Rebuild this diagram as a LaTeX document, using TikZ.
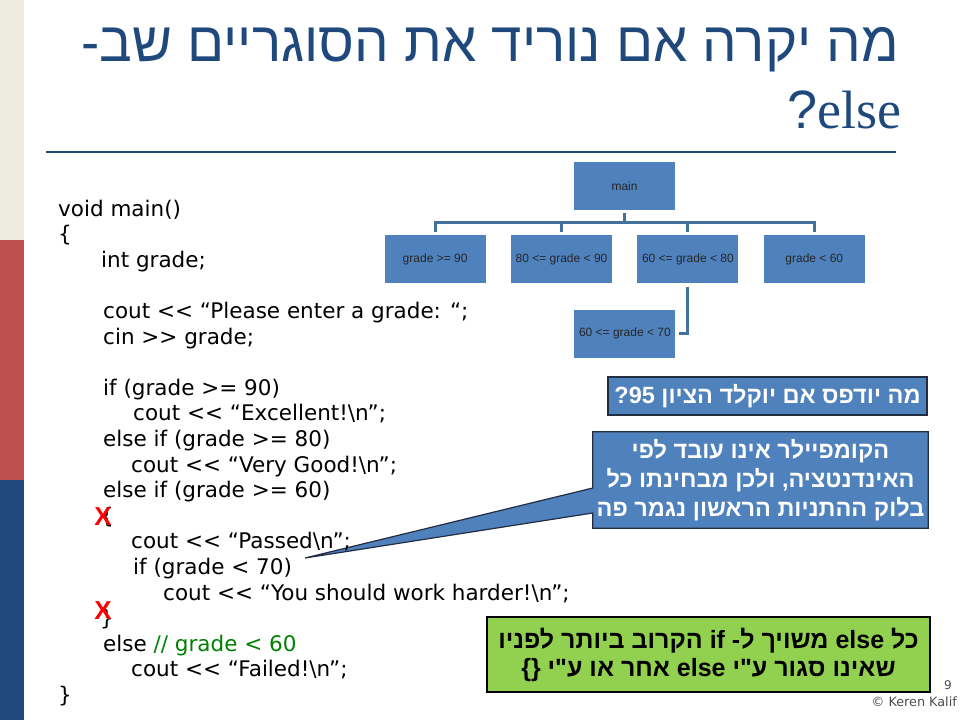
\documentclass[tikz,border=0pt]{standalone}
\usepackage{fontspec}
\usepackage{graphicx}
\setmainfont{DejaVu Sans}[Ligatures=TeXOff]
\newfontfamily\hebfont[Script=Hebrew]{Liberation Sans}
\newfontfamily\serifword{Liberation Serif}
\newfontfamily\boxfont{Liberation Sans}
\TeXXeTstate=1
\usetikzlibrary{positioning,backgrounds}
\definecolor{boxblue}{RGB}{79,129,189}
\definecolor{lineblue}{RGB}{65,113,156}
\definecolor{titleblue}{RGB}{31,73,125}
\definecolor{calledge}{RGB}{35,45,65}
\definecolor{stripbeige}{RGB}{238,236,225}
\definecolor{stripred}{RGB}{192,80,77}
\definecolor{greenbox}{RGB}{146,208,80}
\definecolor{commentgreen}{RGB}{0,128,0}

\begin{document}
\begin{tikzpicture}[x=1pt, y=-1pt, node distance=25pt,
    treebox/.style={fill=boxblue, minimum width=101pt, minimum height=48pt, inner sep=0pt,
        font=\boxfont\fontsize{12}{14}\selectfont, text=black!85},
    treeline/.style={draw=lineblue, line width=3pt, shorten <=3pt, shorten >=3pt},
    codeline/.style={anchor=base west, inner sep=0pt, font=\fontsize{21.5}{25}\selectfont},
    redx/.style={text=red, inner sep=0pt, font=\boxfont\bfseries\fontsize{26}{26}\selectfont},
    calltext/.style={text=white, align=center, inner sep=0pt,
        font=\hebfont\bfseries\fontsize{23.5}{29}\selectfont},
    callbox/.style={calltext, fill=boxblue, draw=calledge, line width=1.2pt},
    bubble/.style={fill=boxblue, draw=calledge, line width=1.2pt},
    titletext/.style={anchor=base east, inner sep=0pt, text=titleblue}]
    \useasboundingbox (0,0) rectangle (960,720);
    % Faixa lateral
    \fill[stripbeige] (0,0) rectangle (24,240);
    \fill[stripred] (0,240) rectangle (24,480);
    \fill[titleblue] (0,480) rectangle (24,720);
    % Titulo
    \node[titletext] (title1) at (899,61)
        {\resizebox{817pt}{\height}{\hebfont\fontsize{56}{60}\selectfont\beginR מה יקרה אם נוריד את הסוגריים שב-\endR}};
    \node[titletext] (title2) at (902,128)
        {\hebfont\fontsize{54}{60}\selectfont ?{\serifword else}};
    \draw[titleblue, line width=2pt] (46,152) -- (896,152);
    % Arvore das condicoes
    \node[treebox] (main) at (624.5,186) {main};
    \node[treebox, below=25pt of main, xshift=-63pt] (g80) {80 <= grade < 90};
    \node[treebox, left=of g80] (g90) {grade >= 90};
    \node[treebox, right=of g80] (g60) {60 <= grade < 80};
    \node[treebox, right=of g60] (glt) {grade < 60};
    \node[treebox, below=26pt of g60, xshift=-63pt] (g70) {60 <= grade < 70};
    \draw[treeline] (main.south) -- ++(0,12) -| (g90.north);
    \draw[treeline] (main.south) -- ++(0,12) -| (g80.north);
    \draw[treeline] (main.south) -- ++(0,12) -| (g60.north);
    \draw[treeline] (main.south) -- ++(0,12) -| (glt.north);
    \draw[treeline] (g60.south) |- (g70.east);
    % Codigo
    \node[codeline] (ln1) at (58,216) {void main()};
    \node[codeline] (ln2) at (58,241.6) {\{};
    \node[codeline] (ln3) at (101,267.2) {int grade;};
    \node[codeline] (ln5) at (103,318.4) {cout << “Please enter a grade: “;};
    \node[codeline] (ln6) at (103,344) {cin >> grade;};
    \node[codeline] (ln8) at (103,395.2) {if (grade >= 90)};
    \node[codeline] (ln9) at (133,420.8) {cout << “Excellent!\textbackslash n”;};
    \node[codeline] (ln10) at (103,446.4) {else if (grade >= 80)};
    \node[codeline] (ln11) at (131,472) {cout << “Very Good!\textbackslash n”;};
    \node[codeline] (ln12) at (103,497.6) {else if (grade >= 60)};
    \node[codeline] (ln13) at (100,523.2) {\{};
    \node[codeline] (ln14) at (131,548.8) {cout << “Passed\textbackslash n”;};
    \node[codeline] (ln15) at (133,574.4) {if (grade < 70)};
    \node[codeline] (ln16) at (163,600) {cout << “You should work harder!\textbackslash n”;};
    \node[codeline] (ln17) at (100,625.6) {\}};
    \node[codeline] (ln18) at (103,651.2) {else {\color{commentgreen}// grade < 60}};
    \node[codeline] (ln19) at (131,676.8) {cout << “Failed!\textbackslash n”;};
    \node[codeline] (ln20) at (58,702.4) {\}};
    % Marcas de erro
    \node[redx] (xopen) at (103,517) {X};
    \node[redx] (xclose) at (103,611) {X};
    % Caixas de comentario
    \node[callbox, minimum width=319pt, minimum height=38pt] (ask95) at (767.5,396)
        {\beginR מה יודפס אם יוקלד הציון \beginL95\endL?\endR};
    \node[calltext, minimum width=335pt, minimum height=96pt] (compiler) at (760.5,480)
        {\beginR הקומפיילר אינו עובד לפי\endR\\
         \beginR האינדנטציה, ולכן מבחינתו כל\endR\\
         \beginR בלוק ההתניות הראשון נגמר פה\endR};
    \coordinate (tip) at (305,558);
    \begin{scope}[on background layer]
        \draw[bubble] (compiler.north west) -- (compiler.north east) -- (compiler.south east)
            -- (compiler.south west) -- ([yshift=-33pt]compiler.west) -- (tip)
            -- ([yshift=-8pt]compiler.west) -- cycle;
    \end{scope}
    \node[fill=greenbox, draw=black, line width=2.5pt, minimum width=443pt, minimum height=75pt,
        inner sep=0pt, align=center, font=\hebfont\bfseries\fontsize{25}{28}\selectfont] (rule) at (708.5,654.5)
        {\beginR כל \beginL else\endL{} משויך ל- \beginL if\endL{} הקרוב ביותר לפניו\endR\\
         \beginR שאינו סגור ע"י \beginL else\endL{} אחר או ע"י \beginL\{\}\endL\endR};
    % Rodape
    \node[anchor=east, inner sep=0pt, text=black!70, font=\fontsize{12}{12}\selectfont] (pagenum) at (952,685) {9};
    \node[anchor=east, inner sep=0pt, text=black!70, font=\fontsize{12.8}{13}\selectfont] (credit) at (957,702) {© Keren Kalif};
\end{tikzpicture}
\end{document}
